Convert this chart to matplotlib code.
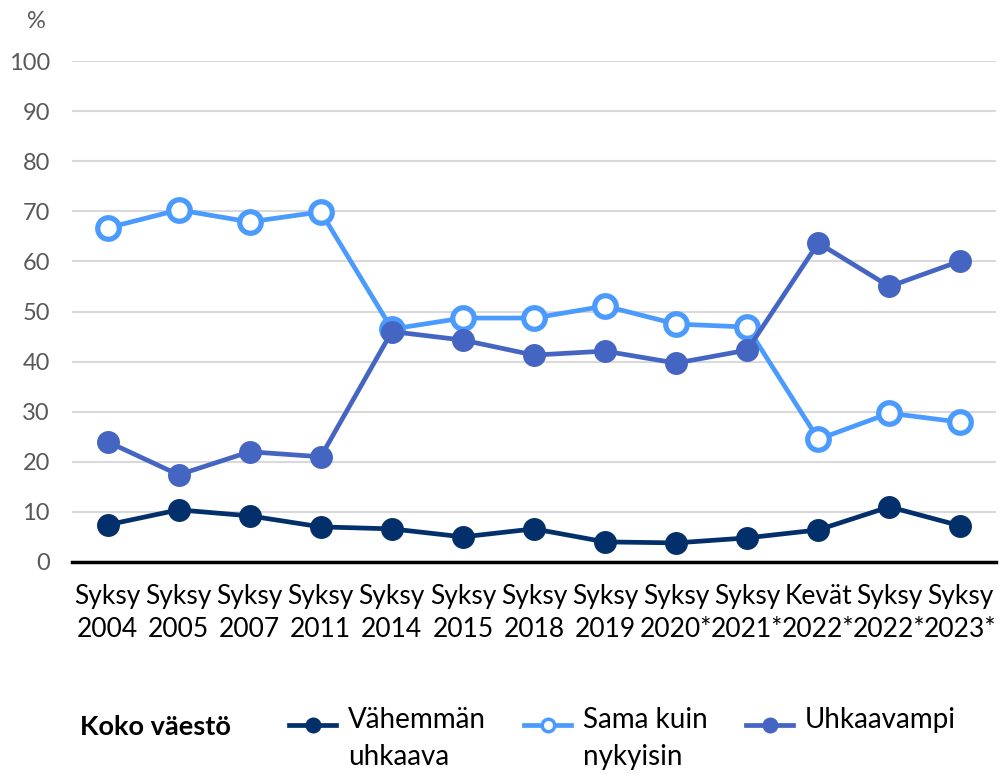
import matplotlib
matplotlib.use("Agg")
import matplotlib.pyplot as plt
from matplotlib.lines import Line2D

plt.rcParams['font.family'] = ['Lato', 'DejaVu Sans']

periods = ["Syksy\n2004", "Syksy\n2005", "Syksy\n2007", "Syksy\n2011", "Syksy\n2014",
           "Syksy\n2015", "Syksy\n2018", "Syksy\n2019", "Syksy\n2020*", "Syksy\n2021*",
           "Kevät\n2022*", "Syksy\n2022*", "Syksy\n2023*"]

vahemman = [7.4, 10.4, 9.2, 7.0, 6.6, 5.0, 6.6, 4.0, 3.8, 4.8, 6.4, 11.0, 7.2]
sama = [66.7, 70.3, 67.9, 69.9, 46.5, 48.7, 48.7, 51.1, 47.5, 46.9, 24.5, 29.7, 27.9]
uhkaavampi = [24.0, 17.4, 22.0, 21.0, 46.0, 44.3, 41.3, 42.1, 39.7, 42.3, 63.7, 55.0, 60.1]

labels = ["Vähemmän\nuhkaava", "Sama kuin\nnykyisin", "Uhkaavampi"]
colors = ['#03306B', '#4B9BFF', '#4565C3']

fig = plt.figure(figsize=(10, 7.74), dpi=100)
ax = fig.add_axes([0.072, 0.274, 0.924, 0.647])

x = range(len(periods))
ax.plot(x, vahemman, color=colors[0], lw=3.4, marker='o', ms=15.5, clip_on=False, zorder=3)
ax.plot(x, sama, color=colors[1], lw=3.4, marker='o', ms=15.5, mfc='white', mew=3.8,
        clip_on=False, zorder=4)
ax.plot(x, uhkaavampi, color=colors[2], lw=3.4, marker='o', ms=15.5, clip_on=False, zorder=5)

ax.set_xlim(-0.5, len(periods) - 0.5)
ax.set_ylim(0, 100)
ax.set_yticks(range(0, 101, 10))
ax.set_xticks(list(x))
ax.set_xticklabels(periods, fontsize=19, color='black', linespacing=1.4)
ax.tick_params(axis='y', labelsize=17, labelcolor='#595959', length=0, pad=16)
ax.tick_params(axis='x', length=0, pad=16)
ax.grid(axis='y', color='#D9D9D9', lw=1.5)
ax.set_axisbelow(True)
for s in ['top', 'right', 'left']:
    ax.spines[s].set_visible(False)
ax.spines['bottom'].set_linewidth(2.5)
ax.spines['bottom'].set_color('black')
ax.spines['bottom'].set_zorder(2)

fig.text(0.036, 0.972, "%", fontsize=17, color='#595959', ha='center', va='center')

# legend
fig.text(0.08, 1 - 727 / 774, "Koko väestö", fontsize=19.5, fontweight='bold', va='center', ha='left')
leg_x = [0.289, 0.524, 0.746]
ly = 1 - 725 / 774
for lx, lab, col, mfc in zip(leg_x, labels, colors, [colors[0], 'white', colors[2]]):
    fig.add_artist(Line2D([lx, lx + 0.047], [ly, ly], color=col, lw=3.4,
                          transform=fig.transFigure))
    fig.add_artist(Line2D([lx + 0.0235], [ly], color=col, marker='o', ms=9, mfc=mfc, mew=2.5,
                          transform=fig.transFigure))
    fig.text(lx + 0.059, ly + 0.023, lab, fontsize=20, va='top', ha='left', linespacing=1.5)

fig.savefig("out.png", dpi=100)
